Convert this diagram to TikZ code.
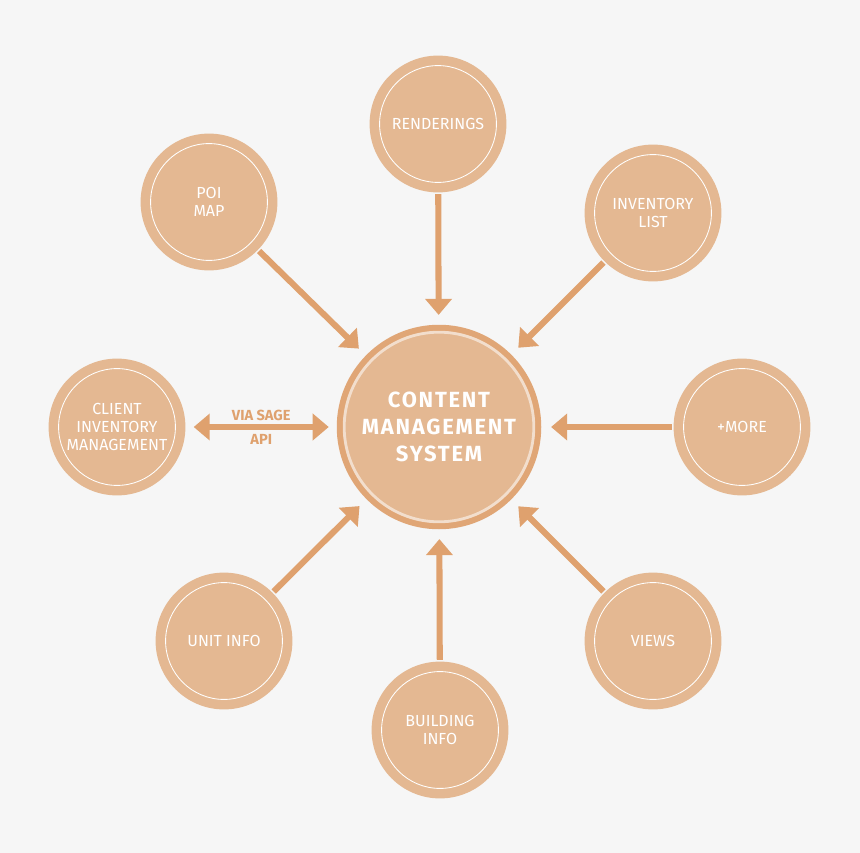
\documentclass[tikz,border=0pt]{standalone}
\usepackage{fontspec}
\setmainfont{Fira Sans}
\usepackage{xcolor}
\usetikzlibrary{arrows.meta,backgrounds,calc}

\definecolor{bgc}{HTML}{F6F6F6}
\definecolor{circfill}{HTML}{E4B892}
\definecolor{ringc}{HTML}{E0A676}
\definecolor{arrc}{HTML}{DFA16E}

\begin{document}
\begin{tikzpicture}[x=0.025cm, y=-0.025cm,
    topic/.style={circle, fill=circfill, minimum size=3.42cm, inner sep=0pt, align=center,
      text=white, font=\fontsize{11.4}{13}\selectfont},
    hub/.style={circle, fill=circfill, draw=ringc, line width=4.3pt, minimum size=4.96cm,
      align=center, text=white, font=\fontsize{15.6}{19.4}\selectfont\bfseries\addfontfeature{LetterSpace=8}},
    arrow/.style={-{Triangle[length=11.4pt,width=18.5pt]}, line width=4.3pt, draw=arrc,
      shorten >=7pt, shorten <=1pt},
    glow/.style={fill=circfill, opacity=#1}]
  % background
  \fill[bgc] (0,0) rectangle (860,853);
  \useasboundingbox (0,0) rectangle (860,853);

  \node[hub] (cms) at (439,427) {CONTENT\\MANAGEMENT\\SYSTEM};
  \node[topic] (rend) at (438,124) {RENDERINGS};
  \node[topic] (poi) at (209,202) {POI\\MAP};
  \node[topic] (inv) at (653,213) {INVENTORY\\LIST};
  \node[topic] (client) at (117,427) {CLIENT\\INVENTORY\\MANAGEMENT};
  \node[topic] (more) at (742,427) {+MORE};
  \node[topic] (unit) at (224,641) {UNIT INFO};
  \node[topic] (build) at (440,730) {BUILDING\\INFO};
  \node[topic] (views) at (653,641) {VIEWS};

  % soft halo behind the circles
  \begin{scope}[on background layer]
    \foreach \n in {rend,poi,inv,client,more,unit,build,views} {
      \fill[glow=0.3] (\n.center) circle (1.76cm);
      \fill[glow=0.12] (\n.center) circle (1.83cm);
    }
    \fill[glow=0.3] (cms.center) circle (2.6cm);
    \fill[glow=0.12] (cms.center) circle (2.68cm);
  \end{scope}

  % thin inner rings
  \foreach \n in {rend,poi,inv,client,more,unit,build,views}
    \draw[white, line width=0.6pt] (\n.center) circle (1.46cm);
  \draw[white, line width=2pt, opacity=0.55] (cms.center) circle (2.37cm);

  \draw[arrow] (rend) -- (cms);
  \draw[arrow] (poi) -- (cms);
  \draw[arrow] (inv) -- (cms);
  \draw[arrow] (more) -- (cms);
  \draw[arrow] (views) -- (cms);
  \draw[arrow] (build) -- (cms);
  \draw[arrow] (unit) -- (cms);
  \draw[arrow, {Triangle[length=11.4pt,width=18.5pt]}-{Triangle[length=11.4pt,width=18.5pt]},
    shorten <=5.7pt, shorten >=5.7pt] (client) -- (cms)
    node[midway, above=1pt, inner sep=1pt, text=arrc, font=\fontsize{10.4}{12}\selectfont\bfseries] {VIA SAGE}
    node[midway, below=2pt, inner sep=1pt, text=arrc, font=\fontsize{10.4}{12}\selectfont\bfseries] {API};
\end{tikzpicture}
\end{document}
